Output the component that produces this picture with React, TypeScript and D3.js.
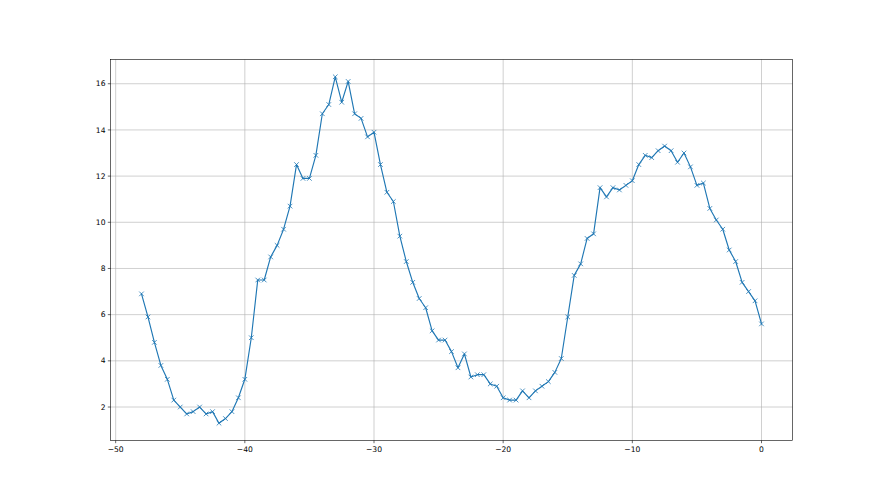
import { useEffect, useRef } from "react";
import * as d3 from "d3";

// x positions of the samples
const xValues: number[] = [
  -48, -47.5, -47, -46.5, -46, -45.5, -45, -44.5, -44, -43.5, -43, -42.5, -42, -41.5, -41, -40.5,
  -40, -39.5, -39, -38.5, -38, -37.5, -37, -36.5, -36, -35.5, -35, -34.5, -34, -33.5, -33, -32.5,
  -32, -31.5, -31, -30.5, -30, -29.5, -29, -28.5, -28, -27.5, -27, -26.5, -26, -25.5, -25, -24.5,
  -24, -23.5, -23, -22.5, -22, -21.5, -21, -20.5, -20, -19.5, -19, -18.5, -18, -17.5, -17, -16.5,
  -16, -15.5, -15, -14.5, -14, -13.5, -13, -12.5, -12, -11.5, -11, -10.5, -10, -9.5, -9, -8.5,
  -8, -7.5, -7, -6.5, -6, -5.5, -5, -4.5, -4, -3.5, -3, -2.5, -2, -1.5, -1, -0.5, 0,
];

// measured values
const yValues: number[] = [
  6.9, 5.9, 4.8, 3.8, 3.2, 2.3, 2.0, 1.7, 1.8, 2.0, 1.7, 1.8, 1.3, 1.5, 1.8, 2.4,
  3.2, 5.0, 7.5, 7.5, 8.5, 9.0, 9.7, 10.7, 12.5, 11.9, 11.9, 12.9, 14.7, 15.1, 16.3, 15.2,
  16.1, 14.7, 14.5, 13.7, 13.9, 12.5, 11.3, 10.9, 9.4, 8.3, 7.4, 6.7, 6.3, 5.3, 4.9, 4.9,
  4.4, 3.7, 4.3, 3.3, 3.4, 3.4, 3.0, 2.9, 2.4, 2.3, 2.3, 2.7, 2.4, 2.7, 2.9, 3.1,
  3.5, 4.1, 5.9, 7.7, 8.2, 9.3, 9.5, 11.5, 11.1, 11.5, 11.4, 11.6, 11.8, 12.5, 12.9, 12.8,
  13.1, 13.3, 13.1, 12.6, 13.0, 12.4, 11.6, 11.7, 10.6, 10.1, 9.7, 8.8, 8.3, 7.4, 7.0, 6.6, 5.6,
];

const xTicks: number[] = [-50, -40, -30, -20, -10, 0];
const yTicks: number[] = [2, 4, 6, 8, 10, 12, 14, 16];

export default function App() {
  const ref = useRef<SVGSVGElement>(null);

  useEffect(() => {
    if (!ref.current) return;
    const svg = d3.select(ref.current);
    svg.selectAll("*").remove();

    const W = 880;
    const H = 495;
    const left = 110.5;
    const right = 792.5;
    const top = 59.5;
    const bottom = 440.5;
    const color = "#1f77b4";
    const font = "DejaVu Sans, sans-serif";

    // matplotlib style 5% margins
    const xMin = d3.min(xValues)!;
    const xMax = d3.max(xValues)!;
    const yMin = d3.min(yValues)!;
    const yMax = d3.max(yValues)!;
    const xPad = (xMax - xMin) * 0.05;
    const yPad = (yMax - yMin) * 0.05;

    const x = d3.scaleLinear().domain([xMin - xPad, xMax + xPad]).range([left, right]);
    const y = d3.scaleLinear().domain([yMin - yPad, yMax + yPad]).range([bottom, top]);

    svg.append("rect").attr("width", W).attr("height", H).attr("fill", "#fff");

    // grid
    const grid = svg.append("g").attr("stroke", "#b0b0b0").attr("stroke-width", 0.6);
    xTicks.forEach((t) => {
      grid.append("line").attr("x1", x(t)).attr("x2", x(t)).attr("y1", top).attr("y2", bottom);
    });
    yTicks.forEach((t) => {
      grid.append("line").attr("x1", left).attr("x2", right).attr("y1", y(t)).attr("y2", y(t));
    });

    const points = xValues.map((v, i) => [v, yValues[i]] as [number, number]);

    const line = d3
      .line<[number, number]>()
      .x((d) => x(d[0]))
      .y((d) => y(d[1]));

    svg
      .append("path")
      .datum(points)
      .attr("d", line)
      .attr("fill", "none")
      .attr("stroke", color)
      .attr("stroke-width", 1.15)
      .attr("stroke-linejoin", "round")
      .attr("stroke-linecap", "square");

    // 'x' markers
    const m = 2.3;
    svg
      .append("g")
      .selectAll("path")
      .data(points)
      .enter()
      .append("path")
      .attr("d", (d) => {
        const cx = x(d[0]);
        const cy = y(d[1]);
        return `M${cx - m},${cy - m}L${cx + m},${cy + m}M${cx - m},${cy + m}L${cx + m},${cy - m}`;
      })
      .attr("stroke", color)
      .attr("stroke-width", 0.8)
      .attr("fill", "none");

    // spines
    svg
      .append("rect")
      .attr("x", left)
      .attr("y", top)
      .attr("width", right - left)
      .attr("height", bottom - top)
      .attr("fill", "none")
      .attr("stroke", "#000")
      .attr("stroke-width", 0.6);

    const fmt = (t: number) => (t < 0 ? "\u2212" + Math.abs(t) : String(t));

    // x axis
    const xa = svg.append("g");
    xTicks.forEach((t) => {
      xa.append("line")
        .attr("x1", x(t))
        .attr("x2", x(t))
        .attr("y1", bottom)
        .attr("y2", bottom + 2.7)
        .attr("stroke", "#000")
        .attr("stroke-width", 0.6);
      xa.append("text")
        .attr("x", x(t))
        .attr("y", bottom + 11.5)
        .attr("text-anchor", "middle")
        .attr("font-family", font)
        .attr("font-size", 7.6)
        .attr("fill", "#000")
        .text(fmt(t));
    });

    // y axis
    const ya = svg.append("g");
    yTicks.forEach((t) => {
      ya.append("line")
        .attr("x1", left - 2.7)
        .attr("x2", left)
        .attr("y1", y(t))
        .attr("y2", y(t))
        .attr("stroke", "#000")
        .attr("stroke-width", 0.6);
      ya.append("text")
        .attr("x", left - 5)
        .attr("y", y(t))
        .attr("dy", "0.35em")
        .attr("text-anchor", "end")
        .attr("font-family", font)
        .attr("font-size", 7.6)
        .attr("fill", "#000")
        .text(fmt(t));
    });
  }, []);

  return (
    <svg
      ref={ref}
      width={880}
      height={495}
      style={{ position: "absolute", left: 0, top: 0, display: "block" }}
    />
  );
}
